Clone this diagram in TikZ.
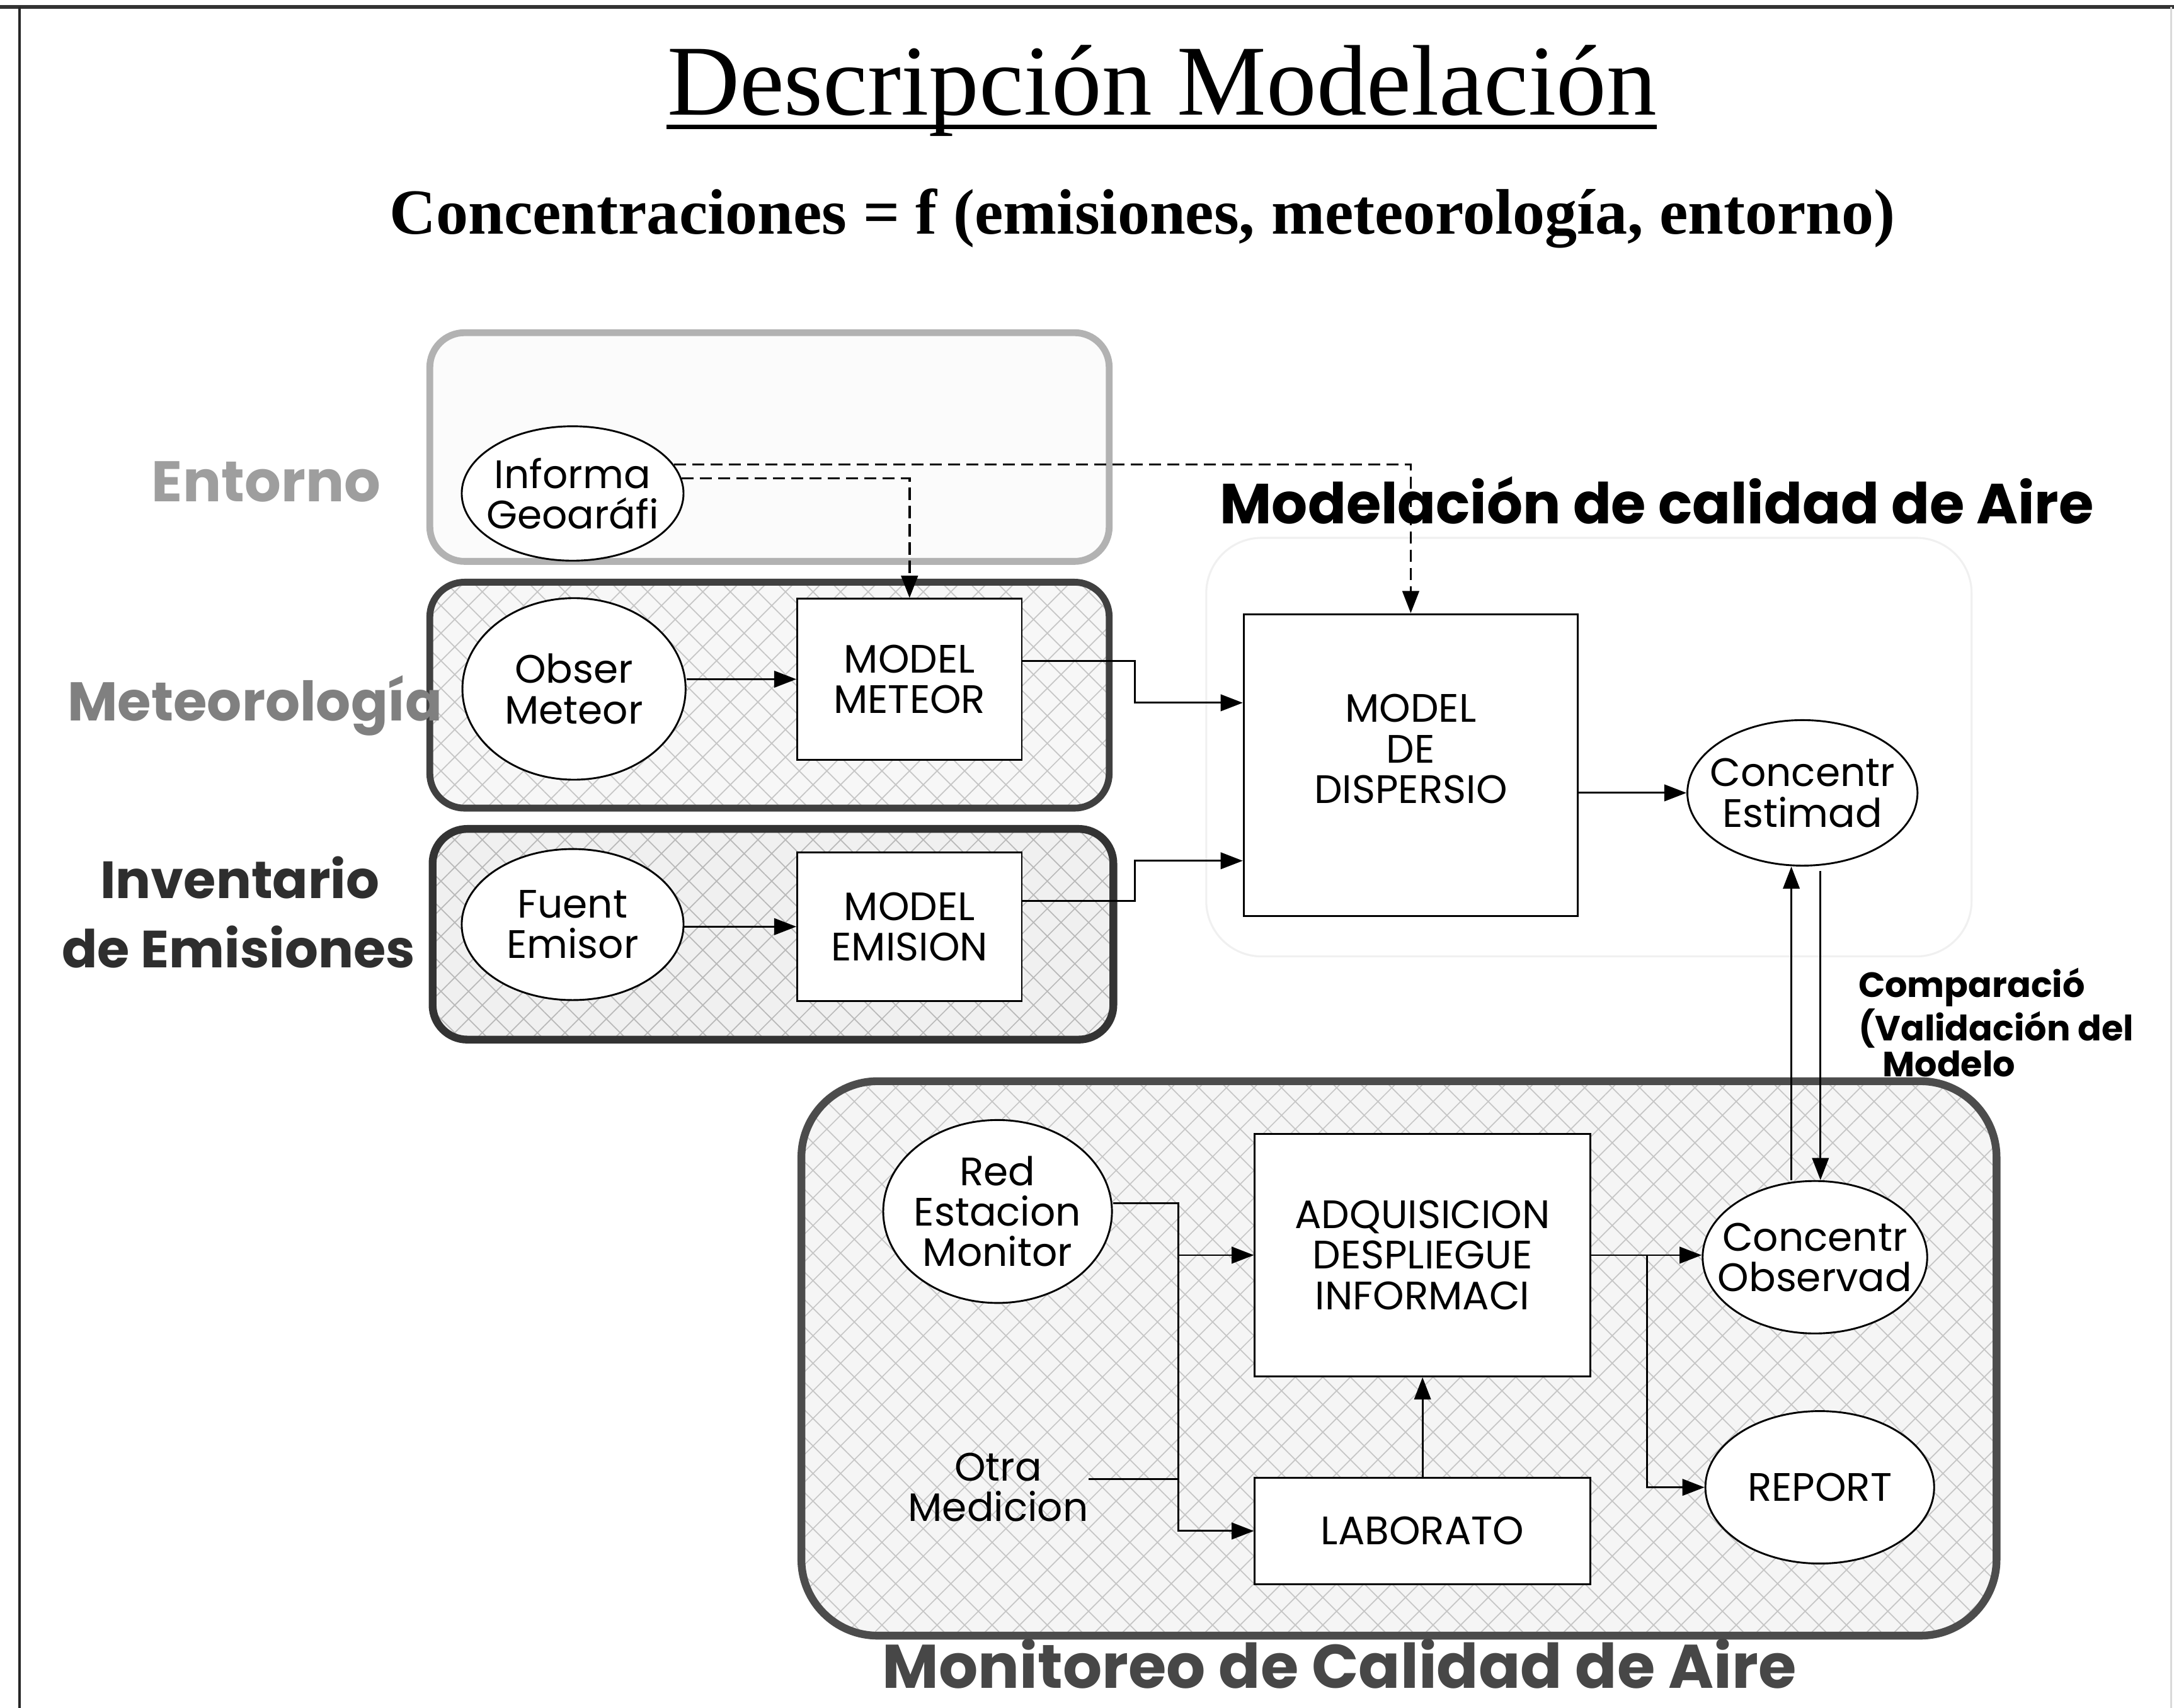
\documentclass[tikz,border=0pt]{standalone}
\usepackage{fontspec}
\setmainfont{Liberation Serif}
\newfontfamily\gothic{Poppins}
\usetikzlibrary{shapes.geometric,arrows.meta,patterns.meta}
\newcommand\ndfont{\gothic\fontsize{16.3}{16.6}\selectfont}
\begin{document}
\begin{tikzpicture}[x=0.02cm,y=-0.02cm,
  ell/.style={ellipse, draw, fill=white, inner sep=-0.6cm, align=center, font=\ndfont, line width=0.75pt},
  boxn/.style={rectangle, draw, fill=white, inner sep=0pt, align=center, font=\ndfont, line width=0.75pt},
  arr/.style={-{Triangle[length=0.32cm,width=0.24cm]}, line width=0.75pt},
  dsh/.style={arr, line width=0.9pt, dash pattern=on 5pt off 2.5pt},
  grp/.style={rounded corners=0.5cm, line width=2.8pt},
  hatchfill/.style={preaction={fill=#1}, pattern={Hatch[angle=45,distance=8pt,line width=0.45pt]}, pattern color=gray!45},
  lbl/.style={font=\gothic\bfseries\fontsize{#1}{#1}\selectfont, inner sep=0pt, anchor=base}
]
\useasboundingbox (0,0) rectangle (1568,1232);
\fill[white] (0,0) rectangle (1568,1232);
% frame
\draw[line width=1.4pt, black!80] (0,5) -- (1568,5);
\draw[line width=0.9pt, black!85] (14,5) -- (14,1232);
\draw[line width=0.6pt, black!15] (1566,5) -- (1566,1232);

% title
\node[inner sep=0pt, anchor=base, font=\fontsize{41.2}{41}\selectfont] (title) at (838,83) {Descripción Modelación};
\draw[line width=1.7pt] ([yshift=-0.17cm]title.base west) -- ([yshift=-0.17cm]title.base east);
\node[inner sep=0pt, anchor=base, font=\bfseries\fontsize{26.4}{26}\selectfont] (sub) at (824,169) {Concentraciones = f (emisiones, meteorología, entorno)};

% group backgrounds
\draw[grp, draw=black!30, fill=gray!3] (310,240) rectangle (800,405);
\draw[grp, draw=black!75, hatchfill=gray!6] (310,420) rectangle (800,583);
\draw[grp, draw=black!80, line width=3.2pt, hatchfill=gray!12, pattern color=gray!55] (312,598) rectangle (803,750);
\draw[rounded corners=0.8cm, line width=0.8pt, draw=black!6] (870,388) rectangle (1422,690);
\draw[rounded corners=1.1cm, line width=3.2pt, draw=black!70, hatchfill=gray!8] (578,780) rectangle (1440,1180);

% group labels
\node[lbl=23.5, text=black!38] (lent) at (192,362) {Entorno};
\node[lbl=22.4, text=black!50] (lmet) at (184,520) {Meteorología};
\node[lbl=21.5, text=black!82] (linv) at (173,648) {Inventario};
\node[lbl=21.5, text=black!82] (lemi) at (172,698) {de Emisiones};
\node[lbl=23.2, text=black] (lmod) at (1195,378) {Modelación de calidad de Aire};
\node[lbl=25.3, text=black!72, text depth=0pt] (lmon) at (966,1218) {Monitoreo de Calidad de Aire};
\node[font=\gothic\bfseries\fontsize{14.4}{14.5}\selectfont, inner sep=0pt, anchor=north west, align=left] (lcmp) at (1340,698) {Comparació\\(Validación del\\\hspace*{0.35cm}Modelo};

% nodes
\node[ell, minimum width=3.2cm, minimum height=1.94cm] (geo) at (413,356) {Informa\\Geoaráfi};
\node[ell, minimum width=3.22cm, minimum height=2.62cm] (obs) at (414,497) {Obser\\Meteor};
\node[ell, minimum width=3.2cm, minimum height=2.18cm] (fue) at (413,667) {Fuent\\Emisor};
\node[boxn, minimum width=3.24cm, minimum height=2.32cm] (mm) at (656,490) {MODEL\\METEOR};
\node[boxn, minimum width=3.24cm, minimum height=2.14cm] (me) at (656,668.5) {MODEL\\EMISION};
\node[boxn, minimum width=4.82cm, minimum height=4.36cm] (disp) at (1017.5,552) {\raisebox{0pt}[0pt][0pt]{\begin{tabular}{@{}c@{}}MODEL\\DE\\DISPERSIO\end{tabular}}};
\node[ell, minimum width=3.32cm, minimum height=2.1cm] (est) at (1300,572) {Concentr\\Estimad};
\node[ell, minimum width=3.3cm, minimum height=2.64cm] (red) at (719.5,874) {Red\\Estacion\\Monitor};
\node[boxn, minimum width=4.84cm, minimum height=3.5cm] (adq) at (1026,905.5) {ADQUISICION\\DESPLIEGUE\\INFORMACI};
\node[boxn, minimum width=4.84cm, minimum height=1.54cm] (lab) at (1026,1104.5) {LABORATO};
\node[ell, minimum width=3.24cm, minimum height=2.2cm] (obsv) at (1309,907) {Concentr\\Observad};
\node[ell, minimum width=3.3cm, minimum height=2.2cm] (rep) at (1312.5,1073) {REPORT};
\node[inner sep=0pt, align=center, font=\ndfont] (otra) at (720,1073) {Otra\\Medicion};

% junctions
\coordinate (jl) at (850,990);
\coordinate (jr) at (1188,906);

% connectors
\draw[dsh] (geo.16) -| (disp.north);
\draw[dsh] (geo.8) -| (mm.north);
\draw[arr] (obs.east |- mm.west) -- (mm.west);
\draw[arr] (fue.east |- me.west) -- (me.west);
\draw[arr] ([yshift=0.26cm]mm.east) -- ++(81,0) |- ([yshift=0.9cm]disp.west);
\draw[arr] ([yshift=0.37cm]me.east) -- ++(81,0) |- ([yshift=-1.38cm]disp.west);
\draw[arr] (disp.east |- est.west) -- (est.west);
\draw[arr] ([xshift=-0.16cm]est.south |- obsv.north) -- ([xshift=-0.16cm]est.south);
\draw[arr] ([xshift=0.26cm,yshift=-0.06cm]est.south) -- ([xshift=0.26cm]est.south |- obsv.north);
\draw[arr] ([yshift=0.12cm]red.east) -| (jl) |- (lab.west);
\draw[arr] (jl |- adq.west) -- (adq.west);
\draw[line width=0.75pt] ([yshift=0.12cm]otra.east) -- ([yshift=0.12cm]otra.east -| jl);
\draw[arr] (lab.north) -- (adq.south);
\draw[arr] (adq.east) -- (adq.east -| obsv.west);
\draw[arr] (jr) |- (rep.west);
\end{tikzpicture}
\end{document}
